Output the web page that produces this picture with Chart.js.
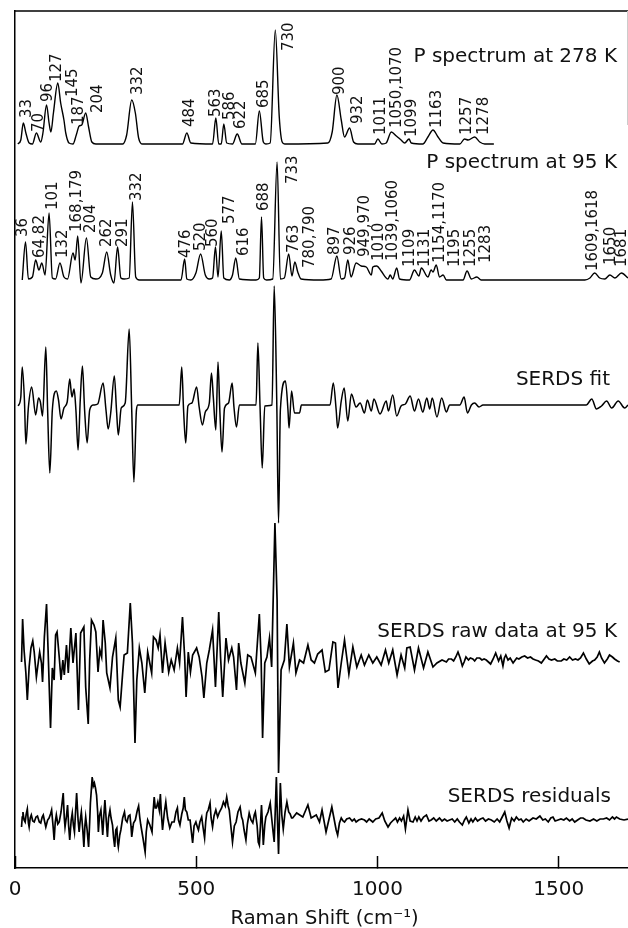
<!DOCTYPE html>
<html>
<head>
<meta charset="utf-8">
<title>Raman spectra</title>
<script src="https://cdn.jsdelivr.net/npm/chart.js@4"></script>
<style>
  html, body { margin: 0; padding: 0; background: #fff; }
  canvas { display: block; }
</style>
</head>
<body>
<canvas id="myChart" width="628" height="928"></canvas>
<script>
// x values are cm-1, y values are intensity above each trace's baseline
const traceNames = ['P spectrum at 278 K', 'P spectrum at 95 K', 'SERDS fit', 'SERDS raw data at 95 K', 'SERDS residuals'];
const traceBaselines = [724, 588, 463, 208, 48];

const p278X = [8,16,23,30,39,48,59,71,77,87,94,99,106,118,126,135,140,149,160,169,177,184,195,203,212,223,297,308,322,332,341,352,462,474,485,545,554,562,569,576,584,600,613,626,663,674,685,692,704,718,729,737,744,863,875,888,900,909,923,934,946,992,1001,1012,1024,1038,1052,1065,1075,1087,1093,1125,1139,1153,1167,1181,1227,1240,1250,1268,1282,1296,1321];
const p278Y = [0,4,21,11,1,0,11,2,11,39,21,12,31,61,41,24,11,1,0,9,18,19,31,17,2,0,0,9,44,31,6,0,0,11,1,0,26,0,0,20,1,0,10,0,0,33,2,0,1,114,27,2,0,1,12,49,24,7,16,2,0,0,5,0,1,12,8,4,1,5,1,0,7,14,7,1,0,5,4,7,2,0,0];

const p95X = [20,29,37,48,57,66,74,83,94,103,112,124,135,145,160,166,173,182,197,209,223,241,253,264,273,283,292,301,315,324,333,343,458,468,474,485,499,512,525,536,545,553,560,569,576,591,600,609,619,665,674,680,686,694,711,723,732,743,755,764,772,780,789,840,872,888,900,909,918,927,941,955,969,983,987,998,1010,1029,1035,1042,1053,1061,1088,1102,1114,1121,1139,1148,1153,1162,1171,1181,1190,1236,1247,1259,1274,1286,1572,1586,1599,1613,1627,1641,1655,1673,1691];
const p95Y = [0,38,1,3,20,10,17,5,67,2,1,17,3,1,27,20,44,-3,42,3,1,7,28,5,-3,33,2,1,2,78,3,0,0,21,1,0,7,26,5,1,2,33,3,49,2,0,5,22,1,0,2,63,2,0,1,118,1,2,26,4,18,8,1,0,1,24,1,2,20,3,17,14,13,5,13,14,9,1,5,1,12,1,0,10,4,12,3,10,8,15,3,5,0,0,9,1,3,0,0,2,7,2,1,5,2,7,2];

const fitX = [9,16,20,26,30,37,46,57,65,70,76,85,90,96,103,114,120,127,135,144,151,157,163,168,174,180,186,192,199,206,216,228,243,251,257,264,274,280,285,293,304,315,322,328,335,339,453,460,465,471,477,488,501,508,517,525,536,542,547,554,560,565,571,578,589,599,604,611,619,665,670,676,682,689,709,715,722,727,732,746,753,756,763,771,777,785,790,869,878,886,890,900,908,918,928,941,952,964,972,983,990,1007,1024,1030,1042,1053,1065,1077,1090,1102,1113,1125,1136,1144,1151,1164,1177,1190,1199,1227,1239,1248,1259,1268,1280,1291,1576,1591,1604,1618,1632,1646,1664,1682,1691];
const fitY = [-1,8,38,5,-39,-2,18,-10,7,3,-11,58,-5,-68,-5,14,5,-14,-3,3,26,8,16,-5,-45,5,39,-5,-38,-5,0,1,22,-5,-24,-8,29,-5,-30,-3,2,76,-5,-77,-5,0,0,38,-5,-38,-1,2,18,-2,-20,-7,2,32,8,-25,43,-5,-47,-3,2,22,-2,-22,0,0,62,-2,-63,-1,0,119,5,-118,-5,24,-5,-23,14,-8,-8,-8,0,0,22,-5,-23,4,17,-16,11,-2,2,-8,5,-6,6,-9,4,-6,10,-11,-1,1,9,-6,6,-7,7,-4,7,-12,7,-7,0,0,8,-8,0,2,-2,0,0,6,-4,-1,4,-3,4,-3,0];

const rawX = [18,21,25,30,34,39,44,49,53,59,65,68,73,76,81,87,91,98,103,108,112,116,122,127,132,136,142,147,154,160,168,175,181,190,195,202,206,211,218,223,229,234,239,243,249,253,262,269,278,285,290,297,301,310,318,324,331,336,343,350,358,366,377,382,389,395,400,407,414,424,431,439,448,454,462,468,472,478,484,490,501,508,516,521,529,536,545,553,562,567,573,582,589,598,603,611,617,623,634,642,651,663,674,679,683,689,695,702,708,717,723,727,734,743,750,757,768,775,785,796,808,817,826,835,847,856,866,877,884,891,900,909,921,932,943,955,964,976,987,998,1010,1022,1031,1042,1054,1065,1075,1081,1090,1102,1113,1127,1139,1153,1164,1178,
    1190,1196,1204,1210,1216,1222,1228,1234,1239,1244,1251,1256,1263,1268,1274,1282,1288,1294,1300,1306,
    1312,1319,1326,1334,1340,1346,1350,1354,1360,1366,1374,1380,1384,1390,1398,1406,1414,1422,1429,1436,
    1444,1452,1460,1466,1473,1480,1489,1496,1507,1514,1522,1530,1538,1546,1553,1560,1568,1576,1584,1593,
    1599,1606,1612,1618,1626,1634,1640,1648,1654,1662,1668,1676,1682,1687];
const rawY = [-2,41,10,-13,-40,-7,12,19,8,-17,0,8,-3,-22,23,56,13,-68,-8,-20,25,28,3,-20,0,-15,15,-13,32,-3,27,-50,27,33,-27,-64,0,40,35,28,-12,10,3,40,17,-13,-28,3,22,-40,-47,-13,5,7,57,17,-83,-20,12,-3,-33,8,-13,23,20,12,25,-13,17,-12,0,-10,12,-3,43,3,-37,8,-12,5,12,3,-17,-38,-3,10,30,-27,48,3,-37,22,0,12,3,-30,17,-3,-23,5,3,-13,46,0,-78,-3,3,22,-7,137,60,-113,-10,0,36,-7,17,-13,0,-3,15,0,-3,6,10,-12,-10,18,17,-28,-3,20,-14,13,-7,5,-5,5,-3,3,-5,10,-3,10,-15,5,-8,12,13,-10,12,-8,8,
    -7,-3,0,-2,1,1,-1,3,8,2,-6,-2,3,0,2,1,-1,2,2,0,
    1,0,-2,-4,1,7,-1,4,-6,2,5,0,2,-3,0,2,1,3,4,2,
    3,1,0,-1,-3,1,4,1,0,1,-1,-1,1,0,3,0,1,0,2,7,
    1,-4,-1,0,3,8,2,-3,1,5,3,1,-1,-2];

const resX = [18,20,22,25,28,31,34,37,39,42,45,49,53,58,62,67,71,75,78,82,
    85,90,94,98,101,105,108,111,114,118,122,127,133,136,138,142,145,148,151,155,
    158,161,164,167,170,174,177,180,183,187,190,193,195,199,203,206,208,213,216,219,
    222,225,228,230,233,237,240,242,245,248,252,255,258,262,265,269,272,275,278,281,
    283,285,289,292,297,302,305,309,313,317,320,322,327,332,337,341,344,347,353,359,
    362,366,372,378,381,384,387,390,394,398,401,404,407,412,416,421,427,433,439,444,
    448,451,455,460,464,467,470,474,478,483,486,490,494,499,503,506,510,515,519,523,
    526,529,533,538,541,545,549,554,559,564,570,575,580,584,588,591,596,600,605,610,
    615,621,625,628,632,637,641,646,651,656,660,663,668,671,674,677,680,683,685,689,
    692,698,704,708,712,715,718,721,724,727,730,732,736,740,745,750,755,759,763,766,
    777,794,808,817,831,840,847,858,874,886,
    890,895,900,905,909,915,923,930,936,941,948,956,964,970,977,987,995,1004,1013,1020,
    1029,1036,1044,1050,1055,1061,1066,1072,1077,1084,1090,1098,1104,1109,1114,1120,1127,1135,1142,1148,
    1155,1162,1171,1178,1185,1192,1199,1206,1213,1220,1226,1234,1240,1245,1252,1258,1263,1270,1276,1284,
    1291,1298,1306,1314,1322,1330,1337,1344,1351,1357,1363,1370,1377,1383,1390,1396,1402,1410,1418,1429,
    1438,1448,1456,1463,1471,1478,1484,1490,1498,1506,1514,1521,1530,1537,1544,1552,1560,1567,1575,1586,
    1596,1605,1614,1623,1632,1640,1648,1654,1659,1668,1680,1691];
const resY = [-7,3,8,0,-2,6,11,-3,-7,2,5,-1,-2,3,4,-2,-3,3,5,-2,
    -7,0,2,6,10,-6,-20,-2,5,-4,-2,8,27,2,-7,4,15,-6,-20,0,
    7,-5,-12,8,27,0,-12,0,8,-10,-27,-5,3,-10,-27,-2,17,43,34,37,
    32,25,8,-12,4,10,-4,-15,4,20,-2,-17,2,10,2,-5,-18,-27,-10,-8,
    -22,-27,-15,-10,2,8,0,-2,4,5,-6,-17,-3,0,9,14,3,-5,-18,-32,
    -12,0,-5,-12,8,23,12,12,18,10,26,5,-10,8,18,2,-8,-2,-2,8,
    12,0,-5,6,12,23,10,8,0,0,-10,-23,-6,-2,-7,-10,-2,3,-8,-18,
    -2,7,10,17,2,-7,4,10,3,8,12,18,14,23,14,10,-8,-22,-6,-2,
    8,13,3,0,-10,-20,-4,7,0,-3,5,8,-6,-22,-25,-6,15,-8,-25,-5,
    3,8,17,2,-12,-22,10,43,0,-34,10,37,5,-9,8,18,8,6,2,2,
    7,3,15,2,5,-2,10,-12,13,-10,
    -15,-3,2,-1,-2,1,2,-1,1,-2,0,1,0,-2,1,-2,1,2,7,-1,
    -7,-3,0,2,-2,2,-1,4,-9,10,-1,-2,3,-1,3,-1,3,5,-1,0,
    2,-1,2,-1,1,-1,0,1,-2,1,-2,-5,0,3,-3,1,-2,2,-1,1,
    2,-1,1,0,-2,1,-2,3,8,-1,-8,2,-1,3,0,1,-2,1,-1,2,
    1,4,0,1,-2,2,3,-1,0,1,0,2,-1,1,-2,0,2,2,0,-1,
    1,-1,1,1,2,0,3,1,3,1,0,1];

// peak labels, anchored at the start of the rotated text
const p278Peaks = ['33','70','96','127','145','187','204','332','484','563','586','622','685','730','900','932','1011','1050,1070','1099','1163','1257','1278'];
const p278PeakX = [29.5,64.5,89.3,114.2,156.5,174,227.4,336.1,480.7,552.5,589.3,620.6,685.1,752.3,893.2,943.9,1007.4,1051.6,1093,1162.1,1245,1291];
const p278PeakY = [26,12,42,62,47,19,31,49,17,27,24,15,36,93,49,20,9,16,7,16,9,9];

const p95Peaks = ['36','64,82','101','132','168,179','204','262','291','332','476','520','560','577','616','688','733','763','780,790','897','926','949,970','1010','1039,1060','1109','1131','1154,1170','1195','1255','1283','1609,1618','1650','1681'];
const p95PeakX = [18.4,66.3,101.3,130.8,167.6,206.3,250.5,296.5,333.3,468.7,510.1,545.1,589.3,628,683.2,764.3,766.1,812.2,881.2,924.5,964.1,1001,1040.5,1086.6,1129.9,1169.4,1210.9,1254.2,1297.4,1593,1642.7,1673.1];
const p95PeakY = [43,22,70,22,48,47,33,33,79,22,29,33,56,24,69,96,27,12,25,25,23,19,19,13,13,17,13,13,17,9,15,13];

const xTicks = [0, 500, 1000, 1500];

function toPoints(xs, ys, base) {
    return xs.map((x, i) => ({ x: x, y: ys[i] + base }));
}

const traceData = [[p278X, p278Y], [p95X, p95Y], [fitX, fitY], [rawX, rawY], [resX, resY]];
const traceWidths = [1.4, 1.4, 1.5, 1.7, 1.7];
const traceSmooth = [true, true, true, false, false];
const labelEnds = [617, 617, 610, 617, 611];
const labelRows = [57, 163, 380, 632, 797];

const fontName = '"DejaVu Sans", sans-serif';

// frame lines, trace names and rotated peak numbers are not part of the axes
const annotations = {
    id: 'annotations',
    afterDatasetsDraw(chart) {
        const c = chart.ctx;
        const area = chart.chartArea;
        const xs = chart.scales.x;
        const ys = chart.scales.y;

        c.save();
        c.strokeStyle = '#000';
        c.lineWidth = 1.5;
        c.beginPath();
        c.moveTo(area.left, area.top);
        c.lineTo(area.right, area.top);
        c.stroke();
        c.strokeStyle = '#ccc';
        c.lineWidth = 1;
        c.beginPath();
        c.moveTo(area.right - 0.5, area.top);
        c.lineTo(area.right - 0.5, 125);
        c.stroke();

        c.fillStyle = '#111';
        c.font = '20px ' + fontName;
        c.textAlign = 'right';
        c.textBaseline = 'middle';
        traceNames.forEach((name, i) => c.fillText(name, labelEnds[i], labelRows[i]));

        c.font = '15px ' + fontName;
        c.textAlign = 'left';
        const drawPeaks = (names, px, py, base) => {
            names.forEach((name, i) => {
                c.save();
                c.translate(xs.getPixelForValue(px[i]), ys.getPixelForValue(py[i] + base));
                c.rotate(-Math.PI / 2);
                c.fillText(name, 0, 1);
                c.restore();
            });
        };
        drawPeaks(p278Peaks, p278PeakX, p278PeakY, traceBaselines[0]);
        drawPeaks(p95Peaks, p95PeakX, p95PeakY, traceBaselines[1]);
        c.restore();
    }
};

let graphData = {
    type: 'line',
    data: {
        datasets: traceNames.map((name, i) => ({
            label: name,
            data: toPoints(traceData[i][0], traceData[i][1], traceBaselines[i]),
            borderColor: '#000',
            borderWidth: traceWidths[i],
            pointRadius: 0,
            cubicInterpolationMode: traceSmooth[i] ? 'monotone' : 'default',
            tension: 0,
            fill: false
        }))
    },
    options: {
        responsive: false,
        animation: false,
        layout: { padding: { left: 15, top: 11, right: 0, bottom: 0 } },
        plugins: {
            legend: { display: false },
            tooltip: { enabled: false }
        },
        scales: {
            x: {
                type: 'linear',
                min: 0,
                max: 1691,
                afterBuildTicks(axis) {
                    axis.ticks = xTicks.map(v => ({ value: v }));
                },
                afterFit(axis) {
                    axis.height = 60;
                    axis.paddingLeft = 0;
                    axis.paddingRight = 0;
                },
                border: { display: true, color: '#000', width: 1.5 },
                grid: {
                    drawOnChartArea: false,
                    drawTicks: true,
                    tickLength: -12,
                    tickColor: '#000',
                    tickWidth: 1.5
                },
                ticks: {
                    color: '#111',
                    padding: 22,
                    maxRotation: 0,
                    callback: v => String(v),
                    font: { family: fontName, size: 20 }
                },
                title: {
                    display: true,
                    text: '\u00a0Raman Shift (cm⁻¹)',
                    color: '#111',
                    padding: { top: 0, bottom: -3 },
                    font: { family: fontName, size: 19.5 }
                }
            },
            y: {
                type: 'linear',
                min: 0,
                max: 857,
                afterFit(axis) {
                    axis.width = 0;
                    axis.paddingTop = 0;
                    axis.paddingBottom = 0;
                },
                border: { display: true, color: '#000', width: 1.5 },
                grid: { display: false },
                ticks: { display: false }
            }
        }
    },
    plugins: [annotations]
};

let myChart = new Chart(document.getElementById('myChart'), graphData);
</script>
</body>
</html>
